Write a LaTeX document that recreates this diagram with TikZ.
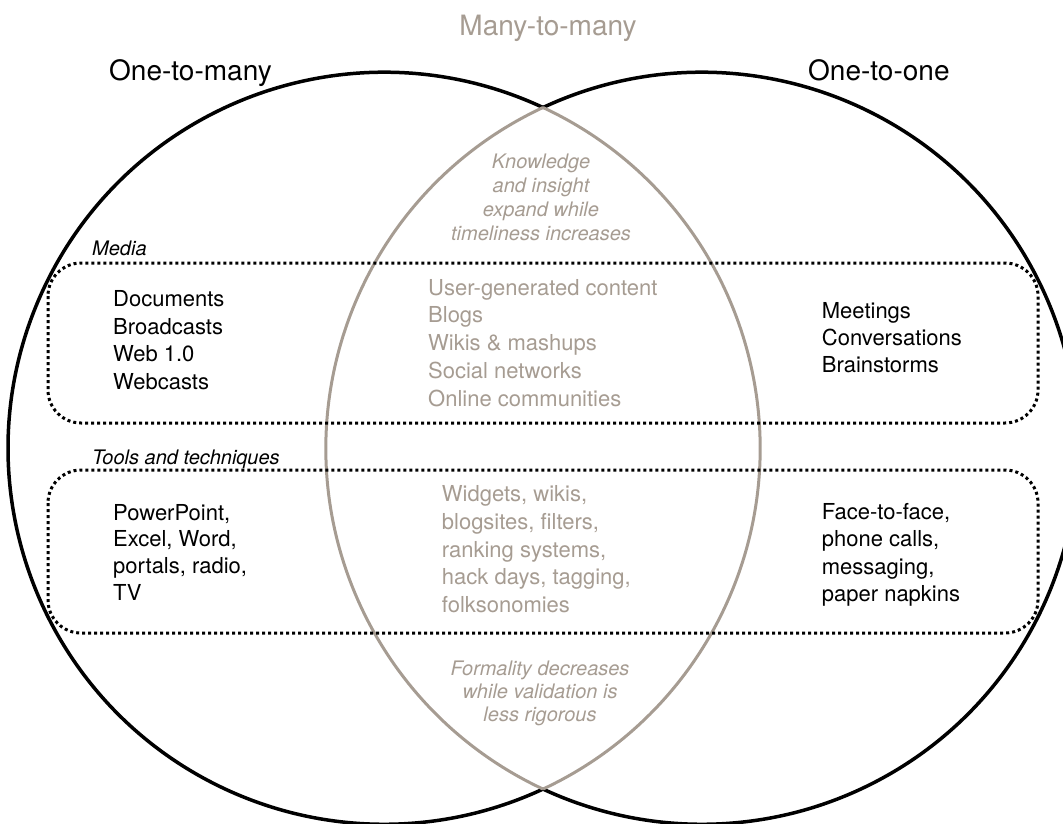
\documentclass[tikz,border=0pt]{standalone}
\usepackage{fontspec}
\setmainfont{TeX Gyre Heros}
\definecolor{lensgray}{RGB}{166,156,146}
\begin{document}
\begin{tikzpicture}[x=1pt,y=-1pt,
  body/.style={font=\fontsize{22}{27}\selectfont, inner sep=0pt, anchor=base west, text=black},
  graybody/.style={body, text=lensgray},
  head/.style={font=\fontsize{28}{32}\selectfont, inner sep=0pt, anchor=base west, text=black},
  lbl/.style={font=\fontsize{20}{24}\selectfont\itshape, inner sep=0pt, anchor=base west, text=black},
  note/.style={font=\fontsize{20}{24}\selectfont\itshape, inner sep=0pt, anchor=base, text=lensgray},
  ring/.style={draw=black, line width=3.5pt},
  lens/.style={draw=lensgray, line width=3pt},
  dotbox/.style={draw=black, line width=3pt, dash pattern=on 3pt off 3pt, rounded corners=33pt}]
\path[use as bounding box] (0,0) rectangle (1063,823);
\clip (0,0) rectangle (1063,823);
% outer arcs of the two circles
\draw[ring] (543,107.5) arc[start angle=-65, end angle=-295, radius=376];
\draw[ring] (543,107.5) arc[start angle=-115, end angle=115, radius=376];
% lens (overlap)
\draw[lens] (543,107.5) arc[start angle=-65, end angle=65, radius=376];
\draw[lens] (543,107.5) arc[start angle=-115, end angle=-245, radius=376];
% dotted boxes
\draw[dotbox] (48,263) rectangle (1038,423);
\draw[dotbox] (48,470) rectangle (1038,633);
% headings
\node[head, anchor=base, text=lensgray] (many) at (548,35) {Many-to-many};
\node[head] (onemany) at (109,80) {One-to-many};
\node[head] (oneone) at (808,80) {One-to-one};
% labels
\node[lbl] (media) at (92,255) {Media};
\node[lbl] (tools) at (92,464) {Tools and techniques};
% notes in lens
\foreach \t [count=\i] in {Knowledge, and insight, expand while, timeliness increases}
  \node[note] (top\i) at (541,{168.3+23.9*(\i-1)}) {\t};
\foreach \t [count=\i] in {Formality decreases, while validation is, less rigorous}
  \node[note] (bot\i) at (540,{675+23.4*(\i-1)}) {\t};
% left
\foreach \t [count=\i] in {Documents, Broadcasts, Web 1.0, Webcasts}
  \node[body] (lm\i) at (113,{306.7+27.5*(\i-1)}) {\t};
\foreach \t [count=\i] in {{PowerPoint,}, {Excel, Word,}, {portals, radio,}, TV}
  \node[body] (lt\i) at (113,{520+26.7*(\i-1)}) {\t};
% middle
\foreach \t [count=\i] in {User-generated content, Blogs, Wikis \& mashups, Social networks, Online communities}
  \node[graybody] (mm\i) at (428,{295+27.75*(\i-1)}) {\t};
\foreach \t [count=\i] in {{Widgets, wikis,}, {blogsites, filters,}, {ranking systems,}, {hack days, tagging,}, folksonomies}
  \node[graybody] (mt\i) at (441.7,{501.7+27.75*(\i-1)}) {\t};
% right
\foreach \t [count=\i] in {Meetings, Conversations, Brainstorms}
  \node[body] (rm\i) at (821.7,{318.3+27.2*(\i-1)}) {\t};
\foreach \t [count=\i] in {{Face-to-face,}, {phone calls,}, {messaging,}, {paper napkins}}
  \node[body] (rt\i) at (821.7,{519.3+27.5*(\i-1)}) {\t};
\end{tikzpicture}
\end{document}
